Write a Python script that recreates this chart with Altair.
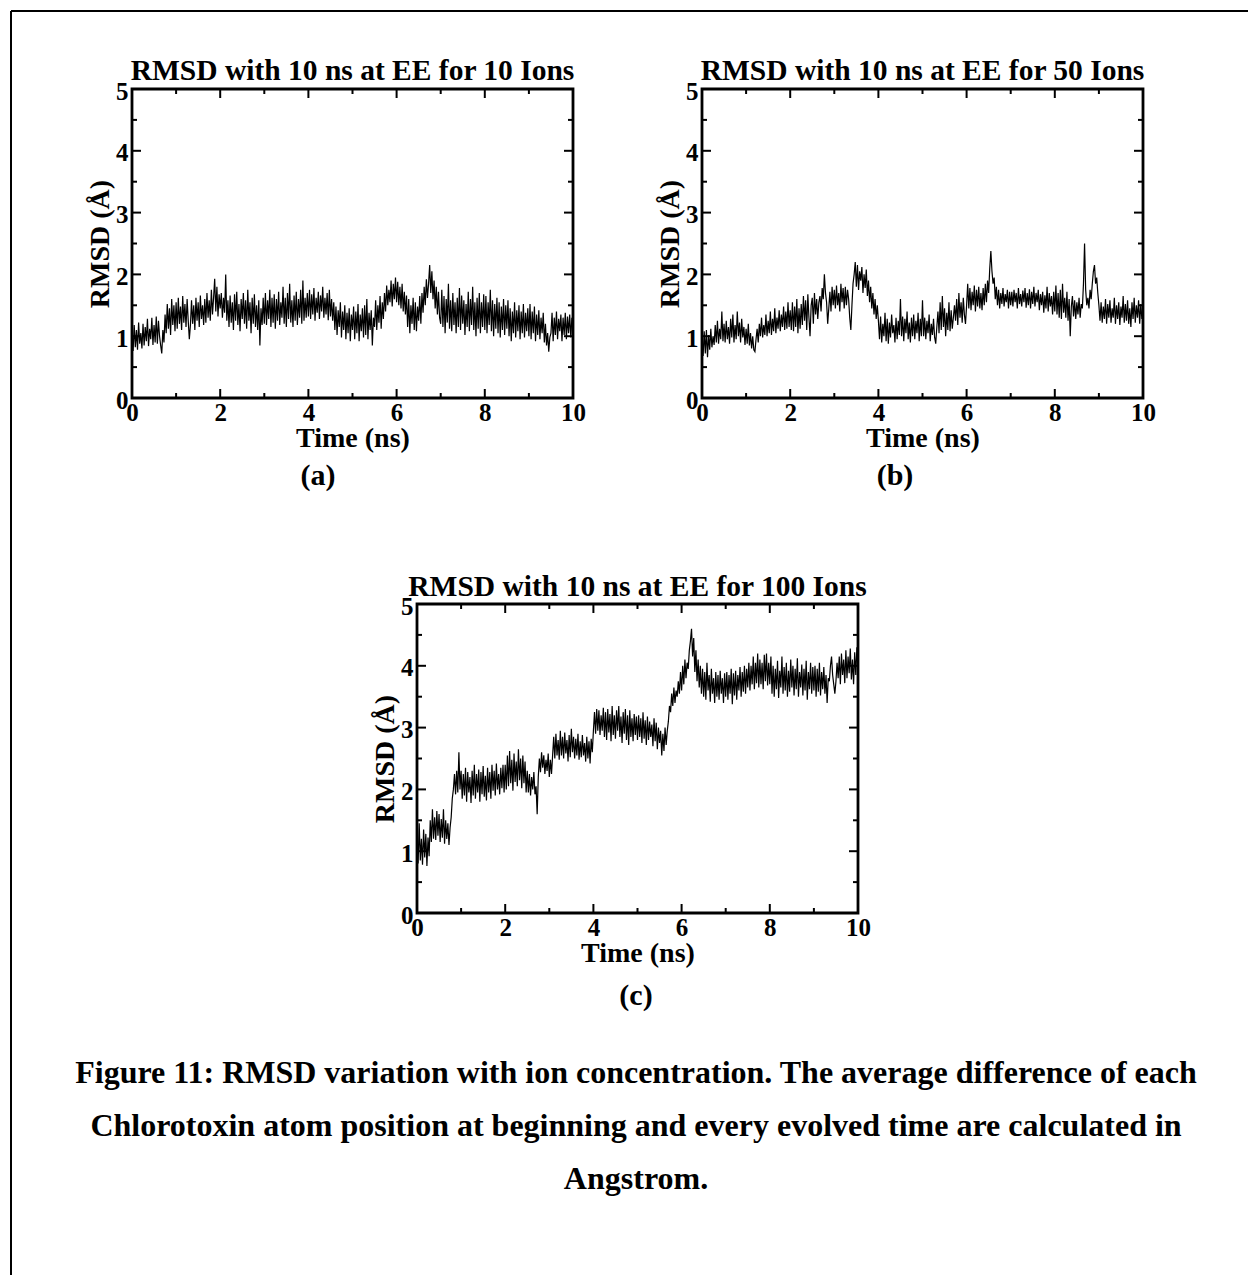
import altair as alt
import pandas as pd

FONT = "Liberation Serif"
W, H = 1248, 1275
DT = 0.025  # ns between samples

RMSD_10 = [
    0.95, 0.76, 1.18, 0.82, 1.10, 0.78, 1.22, 0.88, 1.05, 0.80, 1.20, 0.85, 1.15, 0.92, 1.28, 0.84, 1.12, 0.95, 1.30, 0.86,
    1.18, 0.90, 1.32, 0.88, 1.25, 1.00, 0.85, 0.72, 1.10, 0.90, 1.35, 1.05, 1.52, 1.12, 1.45, 1.02, 1.60, 1.18, 1.50, 1.08,
    1.55, 1.12, 1.62, 1.20, 1.48, 1.10, 1.65, 1.22, 1.52, 1.15, 1.60, 1.25, 0.95, 1.18, 1.58, 1.20, 1.50, 1.10, 1.62, 1.25,
    1.55, 1.15, 1.66, 1.28, 1.50, 1.18, 1.60, 1.22, 1.70, 1.30, 1.58, 1.25, 1.75, 1.35, 1.62, 1.93, 1.40, 1.80, 1.32, 1.68,
    1.45, 1.70, 1.30, 1.62, 1.38, 2.00, 1.25, 1.58, 1.15, 1.66, 1.22, 1.55, 1.10, 1.68, 1.25, 1.72, 1.18, 1.52, 1.08, 1.60,
    1.28, 1.70, 1.20, 1.58, 1.12, 1.75, 1.25, 1.55, 1.05, 1.62, 1.20, 1.68, 1.15, 1.50, 1.10, 1.58, 0.85, 1.45, 1.18, 1.62,
    1.20, 1.70, 1.18, 1.58, 1.28, 1.75, 1.15, 1.62, 1.22, 1.68, 1.12, 1.60, 1.25, 1.72, 1.18, 1.55, 1.30, 1.80, 1.20, 1.62,
    1.15, 1.70, 1.28, 1.85, 1.22, 1.58, 1.15, 1.66, 1.25, 1.72, 1.18, 1.60, 1.30, 1.75, 1.20, 1.90, 1.25, 1.62, 1.30, 1.70,
    1.32, 1.75, 1.28, 1.68, 1.35, 1.78, 1.25, 1.62, 1.38, 1.72, 1.28, 1.66, 1.40, 1.80, 1.30, 1.62, 1.35, 1.70, 1.26, 1.75,
    1.32, 1.60, 1.25, 1.55, 1.10, 1.48, 1.02, 1.42, 1.15, 1.55, 0.98, 1.40, 1.10, 1.50, 0.95, 1.38, 1.05, 1.45, 0.92, 1.35,
    1.10, 1.48, 0.95, 1.40, 1.05, 1.52, 0.92, 1.35, 1.08, 1.45, 0.98, 1.50, 1.02, 1.60, 0.95, 1.38, 1.10, 1.42, 0.85, 1.30,
    1.15, 1.58, 1.10, 1.50, 1.22, 1.65, 1.12, 1.55, 1.28, 1.70, 1.40, 1.82, 1.50, 1.75, 1.55, 1.90, 1.48, 1.85, 1.60, 1.95,
    1.55, 1.88, 1.50, 1.80, 1.45, 1.85, 1.40, 1.72, 1.35, 1.66, 1.15, 1.60, 1.05, 1.50, 1.20, 1.62, 1.10, 1.55, 1.08, 1.48,
    1.25, 1.65, 1.20, 1.70, 1.38, 1.80, 1.50, 1.92, 1.62, 1.85, 2.15, 1.70, 2.05, 1.60, 1.90, 1.45, 1.80, 1.35, 1.72, 1.30,
    1.20, 1.75, 1.15, 1.65, 1.05, 1.60, 1.22, 1.85, 1.12, 1.58, 1.08, 1.70, 1.18, 1.55, 1.05, 1.62, 1.15, 1.78, 1.10, 1.66,
    1.20, 1.58, 1.02, 1.52, 1.15, 1.72, 1.08, 1.60, 1.18, 1.80, 1.10, 1.55, 1.00, 1.62, 1.12, 1.70, 1.05, 1.55, 1.15, 1.68,
    1.10, 1.65, 1.05, 1.55, 1.18, 1.75, 1.08, 1.58, 1.00, 1.52, 1.12, 1.62, 1.05, 1.55, 0.98, 1.48, 1.10, 1.60, 1.02, 1.50,
    1.12, 1.58, 1.00, 1.45, 0.92, 1.40, 1.05, 1.55, 0.98, 1.42, 1.08, 1.50, 0.95, 1.40, 1.05, 1.52, 0.98, 1.38, 1.08, 1.45,
    1.00, 1.52, 0.95, 1.40, 1.05, 1.48, 0.92, 1.35, 1.02, 1.42, 0.95, 1.30, 1.05, 1.38, 0.90, 1.20, 0.85, 1.05, 0.75, 0.98,
    1.05, 1.38, 0.92, 1.30, 1.02, 1.40, 0.95, 1.28, 1.08, 1.35, 0.92, 1.30, 1.02, 1.38, 0.95, 1.32, 1.05, 1.35, 0.98, 1.30,
    1.10,
]

RMSD_50 = [
    0.95, 0.68, 1.08, 0.72, 1.10, 0.66, 1.02, 0.78, 1.12, 0.82, 1.00, 0.86, 1.18, 0.90, 1.25, 0.88, 1.12, 0.95, 1.40, 0.92,
    1.20, 0.90, 1.25, 0.95, 1.15, 0.88, 1.28, 0.98, 1.35, 0.90, 1.18, 0.95, 1.40, 1.00, 1.22, 0.90, 1.28, 0.98, 1.15, 0.86,
    1.12, 0.88, 1.20, 0.85, 1.05, 0.80, 1.00, 0.78, 0.75, 0.95, 1.12, 0.90, 1.20, 1.00, 1.30, 0.98, 1.18, 1.02, 1.35, 1.00,
    1.25, 1.05, 1.40, 1.02, 1.28, 1.08, 1.45, 1.05, 1.30, 1.12, 1.42, 1.08, 1.35, 1.15, 1.48, 1.10, 1.40, 1.12, 1.55, 1.15,
    1.42, 1.10, 1.55, 1.08, 1.48, 1.15, 1.60, 1.05, 1.45, 1.12, 1.52, 1.18, 1.65, 1.25, 1.58, 1.10, 1.68, 1.30, 1.00, 1.50,
    1.62, 1.20, 1.70, 1.35, 1.60, 1.28, 1.55, 1.65, 1.40, 1.78, 1.60, 2.00, 1.70, 1.55, 1.20, 1.45, 1.72, 1.40, 1.80, 1.50,
    1.75, 1.45, 1.82, 1.50, 1.70, 1.40, 1.85, 1.55, 1.78, 1.45, 1.80, 1.50, 1.75, 1.60, 1.30, 1.10, 1.50, 1.85, 2.00, 2.20,
    1.80, 2.15, 1.75, 2.05, 1.90, 2.12, 1.70, 2.00, 1.78, 2.08, 1.65, 1.90, 1.55, 1.80, 1.45, 1.70, 1.35, 1.60, 1.28, 1.50,
    1.25, 0.95, 1.32, 0.90, 1.20, 1.00, 1.38, 0.92, 1.28, 0.88, 1.22, 0.98, 1.35, 1.05, 1.18, 0.90, 1.30, 0.95, 1.25, 1.02,
    1.60, 1.00, 1.32, 0.92, 1.28, 1.05, 1.40, 0.95, 1.22, 0.90, 1.30, 1.00, 1.35, 0.95, 1.25, 1.05, 1.38, 0.92, 1.28, 1.00,
    1.58, 1.00, 1.30, 0.95, 1.25, 1.05, 1.35, 0.92, 1.20, 1.02, 1.28, 0.98, 0.88, 1.15, 1.40, 1.05, 1.55, 1.10, 1.65, 1.15,
    1.45, 1.00, 1.38, 1.10, 1.55, 1.08, 1.42, 1.12, 1.30, 1.50, 1.25, 1.60, 1.18, 1.70, 1.30, 1.55, 1.22, 1.62, 1.35, 1.20,
    1.50, 1.85, 1.45, 1.78, 1.42, 1.72, 1.50, 1.82, 1.40, 1.75, 1.48, 1.80, 1.45, 1.70, 1.42, 1.78, 1.50, 1.85, 1.55, 1.90,
    1.70, 2.10, 2.38, 2.05, 1.85, 1.95, 1.60, 1.80, 1.50, 1.75, 1.45, 1.70, 1.52, 1.78, 1.48, 1.68, 1.55, 1.75, 1.45, 1.72,
    1.50, 1.72, 1.48, 1.75, 1.55, 1.70, 1.45, 1.78, 1.52, 1.68, 1.48, 1.74, 1.55, 1.78, 1.46, 1.70, 1.50, 1.76, 1.45, 1.72,
    1.52, 1.80, 1.48, 1.70, 1.55, 1.75, 1.42, 1.68, 1.50, 1.72, 1.38, 1.66, 1.45, 1.80, 1.40, 1.70, 1.48, 1.65, 1.35, 1.72,
    1.40, 1.82, 1.35, 1.70, 1.30, 1.75, 1.28, 1.85, 1.38, 1.62, 1.30, 1.72, 1.25, 1.60, 1.00, 1.48, 1.65, 1.32, 1.58, 1.28,
    1.55, 1.35, 1.62, 1.30, 1.52, 1.45, 1.85, 2.50, 1.75, 1.50, 1.62, 1.45, 1.75, 1.60, 1.85, 2.05, 2.15, 1.85, 1.95, 1.70,
    1.50, 1.25, 1.55, 1.22, 1.48, 1.28, 1.60, 1.20, 1.52, 1.30, 1.58, 1.22, 1.45, 1.30, 1.62, 1.20, 1.50, 1.28, 1.55, 1.18,
    1.48, 1.30, 1.65, 1.22, 1.52, 1.25, 1.58, 1.20, 1.45, 1.15, 1.55, 1.28, 1.62, 1.22, 1.50, 1.30, 1.58, 1.20, 1.52, 1.28,
    1.40,
]

RMSD_100 = [
    1.30, 0.80, 1.45, 0.85, 1.20, 0.78, 1.35, 0.90, 1.28, 0.76, 1.22, 0.92, 1.50, 1.15, 1.68, 1.20, 1.55, 1.18, 1.65, 1.25,
    1.60, 1.15, 1.52, 1.22, 1.68, 1.12, 1.50, 1.20, 1.45, 1.10, 1.38, 1.55, 1.85, 2.00, 2.25, 1.92, 2.30, 1.95, 2.60, 2.00,
    2.30, 1.85, 2.25, 1.90, 2.35, 1.80, 2.28, 1.95, 2.20, 1.78, 2.30, 1.90, 2.40, 1.85, 2.25, 1.95, 2.32, 1.80, 2.28, 1.92,
    2.38, 1.88, 2.22, 1.82, 2.35, 1.95, 2.28, 1.85, 2.40, 1.98, 2.30, 1.90, 2.42, 2.00, 2.25, 1.92, 2.35, 2.02, 2.40, 1.95,
    2.40, 2.00, 2.55, 2.05, 2.62, 2.10, 2.48, 1.98, 2.58, 2.12, 2.45, 2.05, 2.65, 2.15, 2.50, 2.02, 2.55, 2.10, 2.45, 1.95,
    2.30, 1.95, 2.25, 1.90, 2.20, 2.00, 2.28, 1.92, 2.05, 1.60, 2.20, 2.50, 2.28, 2.60, 2.35, 2.55, 2.25, 2.48, 2.30, 2.58,
    2.20, 2.48, 2.25, 2.55, 2.85, 2.50, 2.90, 2.55, 2.80, 2.48, 2.95, 2.55, 2.85, 2.50, 2.92, 2.58, 2.80, 2.45, 2.88, 2.52,
    2.98, 2.60, 2.85, 2.50, 2.82, 2.55, 2.90, 2.48, 2.78, 2.52, 2.88, 2.55, 2.75, 2.45, 2.85, 2.50, 2.78, 2.42, 2.82, 2.60,
    2.95, 3.25, 2.90, 3.30, 2.95, 3.28, 2.88, 3.20, 2.95, 3.32, 2.85, 3.25, 2.80, 3.30, 2.92, 3.22, 2.78, 3.35, 2.88, 3.20,
    2.82, 3.28, 2.95, 3.35, 2.85, 3.18, 2.75, 3.25, 2.90, 3.30, 2.80, 3.20, 2.72, 3.28, 2.85, 3.15, 2.78, 3.22, 2.88, 3.18,
    2.80, 3.20, 2.85, 3.15, 2.75, 3.25, 2.82, 3.12, 2.72, 3.18, 2.80, 3.10, 2.85, 3.05, 2.70, 3.15, 2.78, 3.08, 2.65, 3.00,
    2.75, 2.95, 2.55, 2.90, 2.62, 3.00, 2.72, 2.95, 3.10, 3.35, 3.25, 3.55, 3.35, 3.65, 3.40, 3.60, 3.50, 3.75, 3.55, 3.90,
    3.60, 4.00, 3.70, 4.10, 3.80, 4.05, 3.95, 4.25, 4.40, 4.60, 4.15, 4.45, 3.90, 4.25, 3.75, 4.10, 3.65, 4.00, 3.55, 3.95,
    3.50, 3.90, 3.45, 4.05, 3.60, 3.85, 3.42, 3.95, 3.55, 3.80, 3.40, 3.90, 3.50, 3.85, 3.45, 3.92, 3.55, 3.80, 3.40, 3.88,
    3.50, 3.90, 3.45, 3.85, 3.55, 3.95, 3.38, 3.88, 3.52, 3.92, 3.45, 3.85, 3.60, 3.98, 3.50, 3.90, 3.58, 4.00, 3.55, 3.95,
    3.65, 4.05, 3.60, 4.00, 3.70, 4.15, 3.62, 4.05, 3.72, 4.20, 3.65, 4.10, 3.70, 4.05, 3.62, 4.18, 3.75, 4.20, 3.68, 4.05,
    3.70, 4.15, 3.55, 4.00, 3.50, 3.95, 3.62, 4.08, 3.48, 3.92, 3.65, 4.15, 3.55, 3.98, 3.60, 4.05, 3.50, 3.92, 3.58, 4.10,
    3.65, 4.00, 3.52, 3.95, 3.62, 4.12, 3.50, 3.90, 3.65, 4.02, 3.52, 3.95, 3.60, 4.08, 3.45, 3.90, 3.62, 4.05, 3.55, 3.98,
    3.60, 4.00, 3.50, 3.95, 3.58, 4.05, 3.52, 3.90, 3.62, 3.98, 3.55, 3.85, 3.40, 3.80, 3.75, 4.00, 4.15, 3.85, 3.70, 3.55,
    3.75, 4.05, 3.80, 4.15, 3.70, 4.20, 3.85, 4.10, 3.72, 4.25, 3.80, 4.15, 3.88, 4.28, 3.78, 4.10, 3.70, 4.22, 3.85, 4.30,
    3.95,
]

TITLES = [
    "RMSD with 10 ns at EE for 10 Ions",
    "RMSD with 10 ns at EE for 50 Ions",
    "RMSD with 10 ns at EE for 100 Ions",
]
SUBLABELS = ["(a)", "(b)", "(c)"]
X_LABELS = [0, 2, 4, 6, 8, 10]
X_MINOR = [1, 3, 5, 7, 9]
Y_LABELS = [0, 1, 2, 3, 4, 5]
Y_MINOR = [0.5, 1.5, 2.5, 3.5, 4.5]
X_TITLE = "Time (ns)"
Y_TITLE = "RMSD (Å)"
CAPTION = [
    "Figure 11: RMSD variation with ion concentration. The average difference of each",
    "Chlorotoxin atom position at beginning and every evolved time are calculated in",
    "Angstrom.",
]


def panel(values, title, x0, x1, ytop, ybot, title_dy):
    df = pd.DataFrame({"t": [round(i * DT, 3) for i in range(len(values))], "v": values})
    sx = alt.Scale(domain=[0, 10], range=[x0, x1], nice=False, zero=False)
    sy = alt.Scale(domain=[0, 5], range=[ybot, ytop], nice=False, zero=False)
    common = dict(
        grid=False, domain=False, ticks=False, tickSize=0,
        labelFont=FONT, labelFontWeight="bold", labelFontSize=25, labelColor="black",
        labelFlush=False, labelOverlap=False,
        titleFont=FONT, titleFontWeight="bold", titleFontSize=28, titleColor="black",
    )
    xaxis = alt.Axis(orient="bottom", offset=ybot - H, values=X_LABELS, labelPadding=2,
                     title=X_TITLE, titlePadding=-1, **common)
    yaxis = alt.Axis(orient="left", offset=-x0, values=Y_LABELS, labelPadding=4,
                     labelOffset=2, title=Y_TITLE, titlePadding=1, **common)

    line = alt.Chart(df).mark_line(color="black", strokeWidth=1.2).encode(
        x=alt.X("t:Q", scale=sx, axis=xaxis),
        y=alt.Y("v:Q", scale=sy, axis=yaxis),
    )
    one = pd.DataFrame({"title": [title]})
    frame = alt.Chart(one).mark_rect(filled=False, stroke="black", strokeWidth=2.8).encode(
        x=alt.XDatum(0, scale=sx, axis=xaxis),
        x2=alt.X2Datum(10),
        y=alt.YDatum(0, scale=sy, axis=yaxis),
        y2=alt.Y2Datum(5),
    )
    head = alt.Chart(one).mark_text(
        font=FONT, fontWeight="bold", fontSize=29.5, color="black",
        align="center", baseline="alphabetic", dy=title_dy,
    ).encode(
        x=alt.XDatum(5, scale=sx, axis=xaxis),
        y=alt.YDatum(5, scale=sy, axis=yaxis),
        text="title:N",
    )

    def xt(vals, length, yv, sign):
        return alt.Chart(pd.DataFrame({"v": vals})).mark_tick(
            orient="vertical", size=length, thickness=2, color="black", opacity=1,
            yOffset=sign * length / 2,
        ).encode(
            x=alt.X("v:Q", scale=sx, axis=xaxis),
            y=alt.YDatum(yv, scale=sy, axis=yaxis),
        )

    def yt(vals, length, xv, sign):
        return alt.Chart(pd.DataFrame({"v": vals})).mark_tick(
            orient="horizontal", size=length, thickness=2, color="black", opacity=1,
            xOffset=sign * length / 2,
        ).encode(
            y=alt.Y("v:Q", scale=sy, axis=yaxis),
            x=alt.XDatum(xv, scale=sx, axis=xaxis),
        )

    ticks = [
        xt(X_LABELS, 9, 0, -1), xt(X_MINOR, 5, 0, -1),
        xt(X_LABELS, 9, 5, 1), xt(X_MINOR, 5, 5, 1),
        yt(Y_LABELS, 9, 0, 1), yt(Y_MINOR, 5, 0, 1),
        yt(Y_LABELS, 9, 10, -1), yt(Y_MINOR, 5, 10, -1),
    ]
    return alt.layer(line, frame, head, *ticks)


pa = panel(RMSD_10, TITLES[0], 132, 573, 89, 398, -9)
pb = panel(RMSD_50, TITLES[1], 702, 1143, 89, 398, -9)
pc = panel(RMSD_100, TITLES[2], 417, 858, 604, 913, -8)

one_row = pd.DataFrame({"k": [0]})


def page_text(txt, x, y, size):
    return alt.Chart(pd.DataFrame({"s": [txt]})).mark_text(
        font=FONT, fontWeight="bold", fontSize=size, color="black",
        align="center", baseline="alphabetic",
    ).encode(x=alt.value(x), y=alt.value(y), text="s:N")


subs = [
    page_text(SUBLABELS[0], 318, 485, 30),
    page_text(SUBLABELS[1], 895, 485, 30),
    page_text(SUBLABELS[2], 636, 1005, 30),
]
caps = [
    page_text(CAPTION[0], 636, 1083, 32),
    page_text(CAPTION[1], 636, 1136, 32),
    page_text(CAPTION[2], 636, 1189, 32),
]
border_top = alt.Chart(one_row).mark_rule(color="black", strokeWidth=2).encode(
    x=alt.value(11), x2=alt.value(W), y=alt.value(11))
border_left = alt.Chart(one_row).mark_rule(color="black", strokeWidth=2).encode(
    x=alt.value(11), y=alt.value(11), y2=alt.value(H))

chart = alt.layer(
    pa, pb, pc, *subs, *caps, border_top, border_left
).resolve_scale(
    x="independent", y="independent"
).resolve_axis(
    x="independent", y="independent"
).properties(
    width=W, height=H, padding=0,
    autosize=alt.AutoSizeParams(type="none"),
    background="white",
).configure_view(stroke=None)

chart.save("out.html", embed_options={"renderer": "svg", "actions": False})
